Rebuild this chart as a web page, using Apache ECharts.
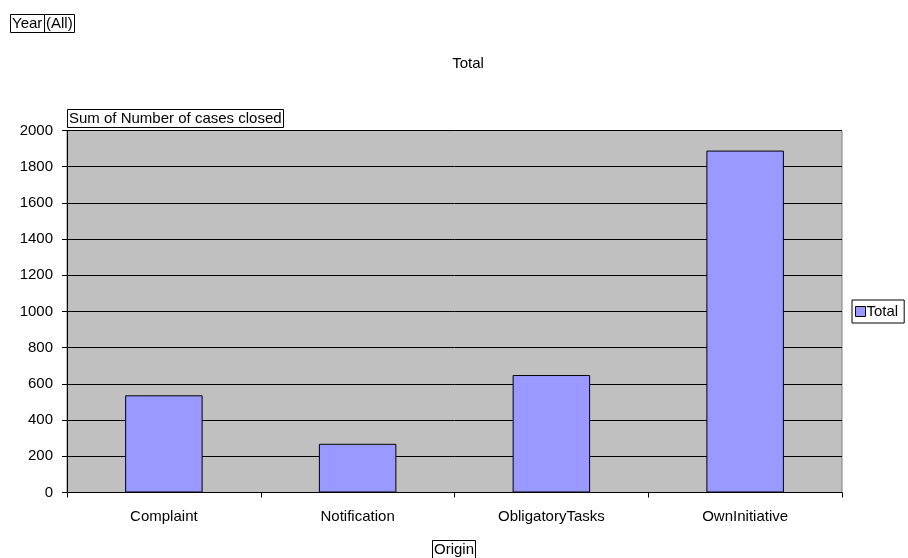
<!DOCTYPE html>
<html>
<head>
<meta charset="utf-8">
<script src="https://cdn.jsdelivr.net/npm/echarts@6/dist/echarts.min.js"></script>
<style>
  html, body { margin: 0; padding: 0; background: #ffffff; }
  #chart { width: 908px; height: 558px; }
</style>
</head>
<body>
<div id="chart"></div>
<script>
// Pivot chart: cases closed by origin
const categories = ['Complaint', 'Notification', 'ObligatoryTasks', 'OwnInitiative'];
const totals = [537, 269, 649, 1889];
const seriesName = 'Total';
const yMin = 0, yMax = 2000, yStep = 200;

const FONT = '"Liberation Sans", Arial, sans-serif';
const FS = 15;

// Boxed text labels (page field, data field, axis field)
function boxed(text, left, top, extra) {
  return Object.assign({
    text: text,
    left: left,
    top: top,
    padding: [1, 2, 1, 2],
    borderColor: '#000000',
    borderWidth: 1,
    backgroundColor: '#ffffff',
    textStyle: { fontFamily: FONT, fontSize: FS, fontWeight: 'normal', color: '#000000', lineHeight: 17 }
  }, extra || {});
}

const chart = echarts.init(document.getElementById('chart'), null, { renderer: 'canvas' });

chart.setOption({
  animation: false,
  backgroundColor: '#ffffff',
  title: [
    boxed('Year', 10, 14),
    boxed('(All)', 44, 14),
    {
      text: 'Total',
      left: 463,
      top: 51,
      textAlign: 'center',
      textStyle: { fontFamily: FONT, fontSize: FS, fontWeight: 'normal', color: '#000000' }
    },
    boxed('Sum of Number of cases closed', 67, 109),
    boxed('Origin', 432, 540)
  ],
  legend: {
    data: [seriesName],
    left: 852,
    top: 300,
    orient: 'vertical',
    padding: [4, 6, 4, 3],
    borderColor: '#000000',
    borderWidth: 1,
    icon: 'rect',
    itemWidth: 10,
    itemHeight: 10,
    itemGap: 0,
    textStyle: { fontFamily: FONT, fontSize: FS, color: '#000000', padding: [0, 0, 0, -4] },
    itemStyle: { borderColor: '#000000', borderWidth: 1 }
  },
  grid: {
    left: 67,
    right: 66,
    top: 130.5,
    bottom: 65.5,
    show: true,
    backgroundColor: '#c0c0c0',
    borderColor: '#808080',
    borderWidth: 1,
    containLabel: false
  },
  xAxis: {
    type: 'category',
    data: categories,
    boundaryGap: true,
    axisLine: { lineStyle: { color: '#000000', width: 1 } },
    axisTick: { show: true, alignWithLabel: false, length: 5, inside: false, lineStyle: { color: '#000000' } },
    axisLabel: { fontFamily: FONT, fontSize: FS, color: '#000000', margin: 17 },
    splitLine: { show: false }
  },
  yAxis: {
    type: 'value',
    min: yMin,
    max: yMax,
    interval: yStep,
    axisLine: { show: true, lineStyle: { color: '#000000', width: 1 } },
    axisTick: { show: true, length: 5, lineStyle: { color: '#000000' } },
    axisLabel: { fontFamily: FONT, fontSize: FS, color: '#000000', margin: 14, formatter: (v) => String(v) },
    splitLine: { show: true, lineStyle: { color: '#000000', width: 1 } }
  },
  series: [{
    name: seriesName,
    type: 'bar',
    data: totals,
    barWidth: '40%',
    itemStyle: { color: '#9999ff', borderColor: '#000000', borderWidth: 1 }
  }]
});
</script>
</body>
</html>
